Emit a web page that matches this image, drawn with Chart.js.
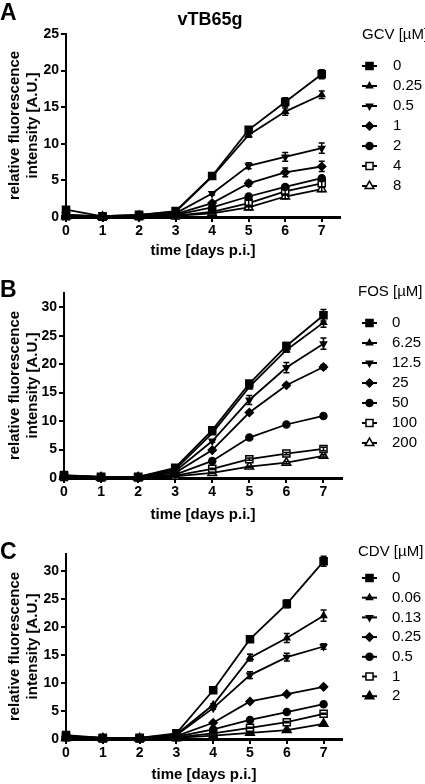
<!DOCTYPE html>
<html>
<head>
<meta charset="utf-8">
<script src="https://cdn.jsdelivr.net/npm/chart.js@4/dist/chart.umd.min.js"></script>
<style>
  body { margin: 0; background: #fff; }
  #page { position: relative; width: 425px; height: 784px; overflow: hidden; }
  canvas { position: absolute; left: 0; }
  .letter { position: absolute; left: 0; font: bold 23px "Liberation Sans", Arial, sans-serif; color: #000; line-height: 1; }
  #virus { position: absolute; left: 152px; width: 116px; top: 9px; text-align: center; font: bold 18px "Liberation Sans", Arial, sans-serif; }
</style>
</head>
<body>
<div id="page">
  <canvas id="chartA" width="425" height="260" style="top:0px"></canvas>
  <canvas id="chartB" width="425" height="265" style="top:260px"></canvas>
  <canvas id="chartC" width="425" height="259" style="top:525px"></canvas>
  <div class="letter" style="top:1px">A</div>
  <div class="letter" style="top:278px">B</div>
  <div class="letter" style="top:540px">C</div>
  <div id="virus">vTB65g</div>
</div>
<script>
// days post infection
const days = [0, 1, 2, 3, 4, 5, 6, 7];

// GCV panel
const gcvConc = ['0', '0.25', '0.5', '1', '2', '4', '8'];
const gcvValues = [
  [1.0, 0.1, 0.3, 0.8, 5.6, 11.9, 15.7, 19.5],
  [0.3, 0.1, 0.3, 0.7, 5.5, 11.2, 14.4, 16.7],
  [0.3, 0.05, 0.2, 0.5, 3.2, 7.0, 8.2, 9.4],
  [0.2, 0.05, 0.15, 0.4, 1.9, 4.6, 6.1, 6.9],
  [0.2, 0.05, 0.1, 0.3, 1.3, 2.8, 4.1, 5.3],
  [0.1, 0.03, 0.1, 0.2, 0.7, 1.9, 3.5, 4.6],
  [0.1, 0.03, 0.1, 0.15, 0.5, 1.3, 2.8, 3.8]
];
const gcvErr = [
  [0, 0, 0, 0, 0.2, 0.4, 0.6, 0.6],
  [0, 0, 0, 0, 0.2, 0.3, 0.5, 0.5],
  [0, 0, 0, 0, 0.2, 0.4, 0.6, 0.7],
  [0, 0, 0, 0, 0.2, 0.4, 0.6, 0.7],
  [0, 0, 0, 0, 0.1, 0.2, 0.3, 0.3],
  [0, 0, 0, 0, 0.1, 0.4, 0.4, 0.5],
  [0, 0, 0, 0, 0.1, 0.3, 0.3, 0.3]
];

// FOS panel
const fosConc = ['0', '6.25', '12.5', '25', '50', '100', '200'];
const fosValues = [
  [0.5, 0.2, 0.2, 1.8, 8.4, 16.6, 23.2, 28.6],
  [0.4, 0.2, 0.2, 1.5, 7.9, 16.0, 22.5, 27.3],
  [0.4, 0.2, 0.2, 1.2, 6.5, 13.7, 19.4, 23.6],
  [0.3, 0.2, 0.2, 0.9, 4.9, 11.5, 16.3, 19.5],
  [0.3, 0.1, 0.1, 0.6, 3.0, 7.1, 9.4, 10.9],
  [0.2, 0.1, 0.1, 0.4, 1.6, 3.3, 4.3, 5.1],
  [0.2, 0.1, 0.1, 0.3, 0.9, 2.0, 2.7, 3.9]
];
const fosErr = [
  [0, 0, 0, 0, 0.3, 0.4, 0.6, 1.0],
  [0, 0, 0, 0, 0.2, 0.3, 0.4, 0.8],
  [0, 0, 0, 0, 0.2, 0.8, 0.9, 1.0],
  [0, 0, 0, 0, 0.1, 0.2, 0.3, 0.4],
  [0, 0, 0, 0, 0.1, 0.2, 0.2, 0.3],
  [0, 0, 0, 0, 0.1, 0.2, 0.2, 0.3],
  [0, 0, 0, 0, 0.1, 0.1, 0.2, 0.2]
];

// CDV panel
const cdvConc = ['0', '0.06', '0.13', '0.25', '0.5', '1', '2'];
const cdvValues = [
  [0.7, 0.2, 0.2, 1.0, 8.7, 17.8, 24.1, 31.7],
  [0.5, 0.2, 0.2, 0.8, 6.1, 14.5, 18.0, 22.0],
  [0.5, 0.2, 0.2, 0.7, 5.5, 11.4, 14.6, 16.5],
  [0.4, 0.1, 0.1, 0.5, 2.9, 6.7, 8.0, 9.3],
  [0.3, 0.1, 0.1, 0.4, 1.7, 3.4, 4.8, 6.2],
  [0.3, 0.1, 0.1, 0.3, 1.0, 2.0, 3.0, 4.5],
  [0.2, 0.1, 0.1, 0.2, 0.6, 1.1, 1.6, 2.7]
];
const cdvErr = [
  [0, 0, 0, 0, 0.3, 0.4, 0.7, 0.9],
  [0, 0, 0, 0, 0.2, 0.6, 0.8, 1.0],
  [0, 0, 0, 0, 0.2, 0.6, 0.7, 0.5],
  [0, 0, 0, 0, 0.1, 0.1, 0.1, 0.2],
  [0, 0, 0, 0, 0.1, 0.1, 0.1, 0.1],
  [0, 0, 0, 0, 0.1, 0.1, 0.1, 0.1],
  [0, 0, 0, 0, 0.1, 0.1, 0.1, 0.1]
];

const FONT = '"Liberation Sans", Arial, sans-serif';

// marker look per series (same order in all panels)
const markers = [
  { pointStyle: 'rect', radius: 5, fill: '#000' },
  { pointStyle: 'triangle', radius: 3.5, fill: '#000' },
  { pointStyle: 'triangle', radius: 3.5, rotation: 180, fill: '#000' },
  { pointStyle: 'rectRot', radius: 4, fill: '#000' },
  { pointStyle: 'circle', radius: 3.5, fill: '#000' },
  { pointStyle: 'rect', radius: 5, fill: '#fff' },
  { pointStyle: 'triangle', radius: 5, fill: '#fff' }
];

const errorBars = {
  id: 'errorBars',
  afterDatasetsDraw(chart) {
    const ctx = chart.ctx;
    const ys = chart.scales.y;
    ctx.save();
    ctx.strokeStyle = '#000';
    ctx.lineWidth = 1.5;
    chart.data.datasets.forEach((ds, i) => {
      if (!ds.err) return;
      const meta = chart.getDatasetMeta(i);
      ds.err.forEach((e, j) => {
        if (!e) return;
        const pt = meta.data[j];
        const v = ds.data[j].y;
        const t = ys.getPixelForValue(v + e);
        const b = ys.getPixelForValue(v - e);
        ctx.beginPath();
        ctx.moveTo(pt.x, t); ctx.lineTo(pt.x, b);
        ctx.moveTo(pt.x - 3, t); ctx.lineTo(pt.x + 3, t);
        ctx.moveTo(pt.x - 3, b); ctx.lineTo(pt.x + 3, b);
        ctx.stroke();
      });
    });
    ctx.restore();
  }
};

const drugLegend = {
  id: 'drugLegend',
  afterDraw(chart, args, opts) {
    const ctx = chart.ctx;
    ctx.save();
    ctx.font = '15px ' + FONT;
    ctx.fillStyle = '#000';
    ctx.textBaseline = 'middle';
    ctx.textAlign = 'left';
    ctx.fillText(opts.title, opts.titleX, opts.titleY);
    chart.data.datasets.forEach((ds, i) => {
      const y = opts.y0 + i * opts.step;
      ctx.strokeStyle = '#000';
      ctx.lineWidth = 2;
      ctx.beginPath();
      ctx.moveTo(opts.lineX, y);
      ctx.lineTo(opts.lineX + 15, y);
      ctx.stroke();
      ctx.fillStyle = ds.pointBackgroundColor;
      ctx.lineWidth = 1.5;
      Chart.helpers.drawPoint(ctx, {
        pointStyle: ds.pointStyle,
        radius: ds.pointRadius,
        rotation: ds.pointRotation || 0,
        borderWidth: 1.5
      }, opts.lineX + 7.5, y);
      ctx.fillStyle = '#000';
      ctx.fillText(ds.label, opts.textX, y);
    });
    ctx.restore();
  }
};

function makeChart(id, conc, values, errs, yMax, geo, legend, lastMarker) {
  const datasets = conc.map((c, i) => {
    const m = (i === 6 && lastMarker) ? lastMarker : markers[i];
    return {
      label: c,
      data: days.map((d, j) => ({ x: d, y: values[i][j] })),
      err: errs[i],
      borderColor: '#000',
      borderWidth: 1.8,
      pointStyle: m.pointStyle,
      pointRadius: m.radius,
      pointRotation: m.rotation || 0,
      pointBackgroundColor: m.fill,
      pointBorderColor: '#000',
      pointBorderWidth: 1.5,
      tension: 0,
      clip: false
    };
  });

  new Chart(document.getElementById(id), {
    type: 'line',
    data: { datasets: datasets },
    plugins: [errorBars, drugLegend],
    options: {
      responsive: false,
      animation: false,
      devicePixelRatio: 1,
      layout: { padding: { top: geo.top, right: 425 - geo.right, left: 0, bottom: 0 } },
      plugins: {
        legend: { display: false },
        tooltip: { enabled: false },
        drugLegend: legend
      },
      scales: {
        x: {
          type: 'linear',
          min: 0,
          max: 7.5,
          afterFit: s => { s.height = geo.height - geo.bottom; },
          afterBuildTicks: s => { s.ticks = days.map(d => ({ value: d })); },
          ticks: { stepSize: 1, color: '#000', padding: 1, font: { family: FONT, size: 14, weight: 'bold' } },
          grid: { drawOnChartArea: false, color: '#000', lineWidth: 2, tickLength: 5 },
          border: { color: '#000', width: 3 },
          title: {
            display: true,
            text: 'time [days p.i.]',
            color: '#000',
            padding: { top: 0, bottom: geo.xTitlePad },
            font: { family: FONT, size: 15, weight: 'bold' }
          }
        },
        y: {
          min: 0,
          max: yMax,
          afterFit: s => { s.width = geo.left; },
          afterBuildTicks: s => {
            const t = [];
            for (let v = 0; v <= yMax; v += 5) t.push({ value: v });
            s.ticks = t;
          },
          ticks: { stepSize: 5, color: '#000', padding: 2, font: { family: FONT, size: 14, weight: 'bold' } },
          grid: { drawOnChartArea: false, color: '#000', lineWidth: 2, tickLength: 5 },
          border: { color: '#000', width: 2 },
          title: {
            display: true,
            text: ['relative fluorescence', 'intensity [A.U.]'],
            color: '#000',
            padding: { top: 6, bottom: 0 },
            font: { family: FONT, size: 15, weight: 'bold' }
          }
        }
      }
    }
  });
}

makeChart('chartA', gcvConc, gcvValues, gcvErr, 25,
  { left: 66, right: 340, top: 34, bottom: 217, height: 260, xTitlePad: 0 },
  { title: 'GCV [µM]', titleX: 362, titleY: 35, lineX: 362, textX: 393, y0: 66, step: 20 });

makeChart('chartB', fosConc, fosValues, fosErr, 32.5,
  { left: 64, right: 342, top: 33, bottom: 218, height: 265, xTitlePad: 1 },
  { title: 'FOS [µM]', titleX: 358, titleY: 32, lineX: 362, textX: 392, y0: 63, step: 20 });

makeChart('chartC', cdvConc, cdvValues, cdvErr, 33,
  { left: 66, right: 342, top: 29, bottom: 214, height: 259, xTitlePad: 0 },
  { title: 'CDV [µM]', titleX: 358, titleY: 27, lineX: 362, textX: 392, y0: 53, step: 19.7 },
  { pointStyle: 'triangle', radius: 5, fill: '#000' });
</script>
</body>
</html>
